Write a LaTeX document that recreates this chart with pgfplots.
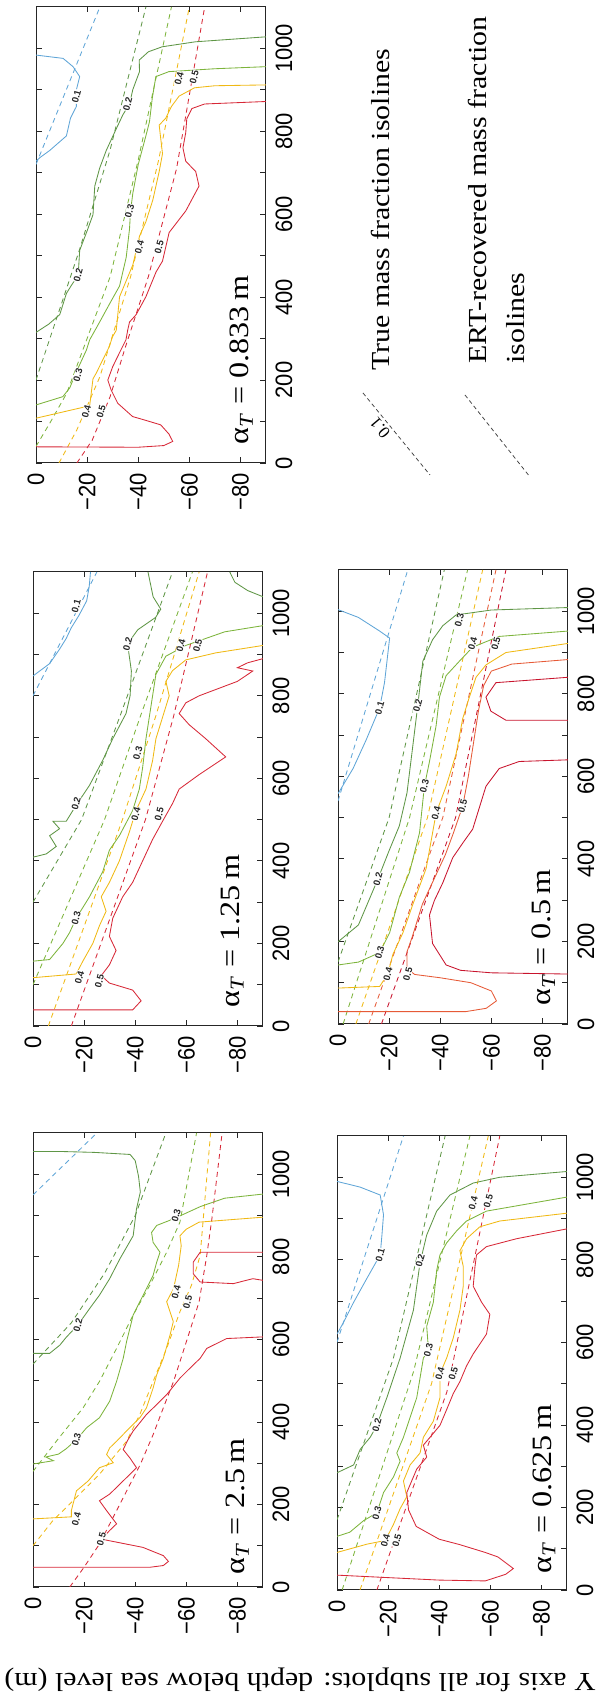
\documentclass[border=0pt]{standalone}
\usepackage{fontspec}
\setmainfont{Liberation Serif}
\newfontfamily\sansf{Liberation Sans}
\usepackage{graphicx}
\usepackage{pgfplots}
\pgfplotsset{compat=1.18}

\definecolor{cA}{RGB}{95,165,215}
\definecolor{cB}{RGB}{95,150,70}
\definecolor{cC}{RGB}{125,180,60}
\definecolor{cD}{RGB}{240,185,20}
\definecolor{cE}{RGB}{215,40,55}
\definecolor{cG}{RGB}{230,90,55}
\definecolor{cF}{RGB}{200,20,45}

\newcommand\tk[1]{\scalebox{1}[1.08]{#1}}
\newcommand\wdx[1]{\scalebox{1.15}[1]{#1}}
\newcommand\tickfont{\sansf\fontsize{22bp}{23bp}\selectfont}
\newcommand\clabfont{\sansf\bfseries\fontsize{9.5bp}{10bp}\selectfont}
\newcommand\alfont{\fontsize{28bp}{30bp}\selectfont}
\newcommand\legfont{\fontsize{26bp}{28bp}\selectfont}

\tikzset{
  clab/.style={font=\clabfont, rotate=75, inner sep=0.4bp, fill=white, text=black!85},
  alab/.style={font=\alfont, rotate=90, anchor=west, inner sep=0pt},
}

% x = depth below sea level in m (plotted as magnitude, labelled negative), y = distance in m
\pgfplotsset{
  panel/.style={
    scale only axis, width=230bp, height=454bp,
    xmin=0, xmax=90, ymin=0, ymax=1100,
    xtick={0,20,40,60,80},
    xticklabels={\tk{0},\tk{−20},\tk{−40},\tk{−60},\tk{−80}},
    ytick={0,100,...,1000},
    yticklabels={\tk{0},,\tk{200},,\tk{400},,\tk{600},,\tk{800},,\tk{1000}},
    xtick pos=both, ytick pos=both,
    yticklabel pos=right, xticklabel pos=bottom,
    tick align=inside, major tick length=5.5bp,
    axis line style={line width=1bp, black!85},
    every tick/.append style={black!85, line width=0.8bp},
    xticklabel style={rotate=90, anchor=east, font=\tickfont},
    yticklabel style={rotate=90, anchor=north, font=\tickfont},
    yticklabel shift=6bp, xticklabel shift=7bp,
    clip=true, anchor=south west,
  },
  sol/.style={line width=0.85bp, mark=none},
  das/.style={line width=0.85bp, mark=none, dash pattern=on 5bp off 4bp},
}

\begin{document}
\begin{tikzpicture}[x=1bp,y=1bp]
\path[use as bounding box] (0,0) rectangle (605,1702);
\coordinate (pA) at (33,115);
\coordinate (pB) at (337,112);
\coordinate (pC) at (33,676);
\coordinate (pD) at (338,678);
\coordinate (pE) at (36,1239);
\coordinate (pL) at (340,1202);

%================ Panel A : alpha = 2.5 m (bottom left)
\begin{axis}[panel, at={(pA)}]
\addplot[das,cA] coordinates {(0,950) (25,1100)};
\addplot[das,cB] coordinates {(0,540) (15,640) (28,760) (40,900) (52,1100)};
\addplot[das,cC] coordinates {(0,280) (10,360) (19.6,434) (26,498) (32.7,578) (39.2,659) (45.7,731) (52.3,811) (57.5,884) (64,1100)};
\addplot[das,cD] coordinates {(0,100) (7.8,161) (15.7,209) (26,273) (36.6,353) (41.8,418) (47,498) (52.3,578) (57.5,667) (62,731) (65.4,803) (69.5,1100)};
\addplot[das,cE] coordinates {(14.4,0) (20,48) (26,104) (38,249) (42,297) (47,369) (51,434) (55,498) (60,594) (65,691) (68,803) (70,892) (74,1100)};
\addplot[sol,cB] coordinates {(0,1055) (12,1055) (24,1053) (38,1048) (40,1033) (41.3,995) (42,957) (40.5,916) (39.2,851) (34,795) (30,747) (26,707) (22.2,675) (17.6,635) (13,605) (10.5,586) (6.5,566) (0,566)};
\addplot[sol,cC] coordinates {(0,298) (8,306) (5,315) (10,322) (13,335) (17,357) (21,386) (26,410) (30,450) (32.7,498) (35.3,554) (36.6,594) (39.2,659) (41.8,691) (44.4,723) (47,755) (48.4,787) (49.7,811) (47,835) (46.4,859) (48.4,876) (55,892) (65.6,922) (75,942) (90,952)};
\addplot[sol,cD] coordinates {(0,165) (15,170) (15,185) (17,233) (21.6,257) (26,289) (31.4,301) (28.8,321) (30,337) (32.7,353) (36.6,378) (41.8,410) (44.4,434) (47,482) (48.4,514) (51,554) (53.6,610) (54.9,643) (52.3,691) (55,723) (57,780) (58,827) (57.5,851) (60,867) (65,884) (90,896)};
\addplot[sol,cE] coordinates {(0,48) (46,48) (51,52) (53,62) (51,76) (43,96) (30,112) (26.8,116) (30,137) (32.7,153) (28.8,185) (26,209) (30,225) (36.6,265) (40.5,289) (38,312) (35.3,333) (37,355) (39.2,378) (44.4,418) (48.4,442) (52.3,466) (57.5,506) (61.4,530) (65.4,554) (68,578) (75.8,602) (90,606)};
\addplot[sol,cE] coordinates {(90,811) (65.4,811) (62.7,787) (62.7,759) (65.4,739) (78.4,735) (86,747) (90,743)};
\node[clab] at (axis cs:17.6,635) {0.2};
\node[clab] at (axis cs:17,357) {0.3};
\node[clab] at (axis cs:17,165) {0.4};
\node[clab] at (axis cs:26.8,116) {0.5};
\node[clab] at (axis cs:56,900) {0.3};
\node[clab] at (axis cs:56,715) {0.4};
\node[clab] at (axis cs:60.5,690) {0.5};
\node[alab] at (axis cs:80,30) {\wdx{α\textsubscript{\textit{T}} = 2.5\,m}};
\end{axis}

%================ Panel B : alpha = 0.625 m (bottom right)
\begin{axis}[panel, at={(pB)}]
\addplot[das,cA] coordinates {(0,600) (26,1100)};
\addplot[das,cB] coordinates {(0,170) (22,560) (42.3,1100)};
\addplot[das,cC] coordinates {(2,0) (30,530) (52,1100)};
\addplot[das,cD] coordinates {(9,0) (37,500) (59.2,1100)};
\addplot[das,cE] coordinates {(15.6,0) (43,480) (63.7,1100)};
\addplot[sol,cA] coordinates {(0,990) (9.1,976) (16.9,957) (18.2,909) (17.6,861) (16.9,812) (11.7,755) (6.5,697) (2.6,649) (0,620)};
\addplot[sol,cB] coordinates {(0,284) (6.5,303) (9.1,341) (13,370) (15.6,399) (19.5,466) (24.7,562) (27.3,620) (29.9,678) (31.2,736) (32.5,793) (35.1,860) (39,918) (44.2,957) (53.3,986) (63.7,1000) (90,1014)};
\addplot[sol,cC] coordinates {(0,130) (5,140) (10.4,168) (15.6,187) (18.2,236) (22.1,274) (24.7,312) (23.4,332) (26,370) (28.6,418) (31.2,466) (33.8,562) (35.8,582) (35.1,639) (37.7,697) (39,774) (40.3,812) (42.9,841) (46.8,870) (50.7,894) (58.5,918) (90,952)};
\addplot[sol,cD] coordinates {(0,91) (11.7,111) (18.9,120) (22.1,159) (24.7,197) (27.3,226) (26,264) (28.6,303) (32.5,332) (33.8,370) (37.7,409) (40.3,466) (40.3,524) (42.9,562) (45.5,611) (48.1,678) (49.4,736) (49.4,784) (48.1,822) (50.7,851) (55.9,880) (63.7,894) (90,913)};
\addplot[sol,cE] coordinates {(0,36) (20,30) (40,24) (58,22) (66,38) (69,52) (63,80) (58,91) (48,110) (40,123) (31,154) (28,194) (27.3,236) (29.9,274) (31.2,293) (35.1,322) (33.8,351) (36.4,370) (40.3,399) (42.9,437) (45.5,476) (48.1,505) (50.7,543) (53.3,572) (58.5,620) (59.8,668) (56.6,697) (53.3,736) (54,784) (54.6,812) (58.5,832) (70.2,851) (90,875)};
\node[clab] at (axis cs:16.9,812) {0.1};
\node[clab] at (axis cs:32.5,798) {0.2};
\node[clab] at (axis cs:53.3,937) {0.4};
\node[clab] at (axis cs:59.2,942) {0.5};
\node[clab] at (axis cs:15.6,399) {0.2};
\node[clab] at (axis cs:35.8,582) {0.3};
\node[clab] at (axis cs:40.3,524) {0.4};
\node[clab] at (axis cs:45.5,524) {0.5};
\node[clab] at (axis cs:15.6,187) {0.3};
\node[clab] at (axis cs:18.9,120) {0.4};
\node[clab] at (axis cs:23.4,120) {0.5};
\node[alab] at (axis cs:81,40) {\wdx{α\textsubscript{\textit{T}} = 0.625\,m}};
\end{axis}

%================ Panel C : alpha = 1.25 m (middle left)
\begin{axis}[panel, at={(pC)}]
\addplot[das,cA] coordinates {(0,800) (25,1100)};
\addplot[das,cB] coordinates {(0,300) (19,500) (34,750) (54.6,1100)};
\addplot[das,cC] coordinates {(0,100) (28,500) (42,750) (62.4,1100)};
\addplot[das,cD] coordinates {(6,0) (35,500) (48,750) (65,1100)};
\addplot[das,cE] coordinates {(15,0) (44,500) (55,750) (68.3,1100)};
\addplot[sol,cA] coordinates {(0,848) (6.5,878) (10.4,913) (13,939) (15,965) (18,995) (21,1030) (22,1065) (22.5,1100)};
\addplot[sol,cB] coordinates {(0,409) (5.2,417) (9.1,435) (6.5,461) (10.4,478) (7.8,496) (13,496) (16.9,535) (22.1,583) (27.3,644) (31.2,696) (36.4,757) (38,800) (38.5,860) (37,926) (41,960) (48,990) (50,1010) (47,1040) (45,1100)};
\addplot[sol,cB] coordinates {(90,1040) (84,1055) (79,1075) (77,1100)};
\addplot[sol,cC] coordinates {(0,157) (6.5,161) (11.7,200) (14.3,226) (16.9,261) (22.1,313) (27.3,374) (29.9,426) (33.8,461) (39,522) (41.6,574) (42.9,626) (44.2,696) (45.5,748) (46.8,800) (48.1,852) (52,896) (59.8,922) (75,955) (90,970)};
\addplot[sol,cD] coordinates {(0,117) (16.9,126) (19.5,157) (23.4,200) (26,243) (28.6,278) (26.7,313) (29.9,348) (33.8,400) (37.7,470) (40.3,522) (44.2,574) (46.8,643) (48.1,696) (50.7,748) (53.3,800) (52,835) (54.6,861) (59.8,887) (71.5,904) (90,922)};
\addplot[sol,cE] coordinates {(0,39) (39,39) (42.3,61) (39,87) (29.9,104) (26.7,122) (29.9,148) (32.5,183) (29.9,217) (31.2,261) (35.1,313) (39,348) (42.9,400) (46.8,452) (50.7,496) (54.6,539) (57.2,574) (65,609) (75.4,652) (67.6,696) (61.1,730) (57.2,757) (59.8,783) (65,800) (80,835) (86,860) (80,868) (84,880) (90,890)};
\node[clab] at (axis cs:16.9,1017) {0.1};
\node[clab] at (axis cs:37,926) {0.2};
\node[clab] at (axis cs:57.9,922) {0.4};
\node[clab] at (axis cs:64.4,922) {0.5};
\node[clab] at (axis cs:41,661) {0.3};
\node[clab] at (axis cs:16.9,539) {0.2};
\node[clab] at (axis cs:40.3,513) {0.4};
\node[clab] at (axis cs:49.4,513) {0.5};
\node[clab] at (axis cs:16.9,261) {0.3};
\node[clab] at (axis cs:18.2,117) {0.4};
\node[clab] at (axis cs:26,109) {0.5};
\node[alab] at (axis cs:78,45) {\wdx{α\textsubscript{\textit{T}} = 1.25\,m}};
\end{axis}

%================ Panel D : alpha = 0.5 m (middle right)
\begin{axis}[panel, at={(pD)}]
\addplot[das,cA] coordinates {(0,540) (27.3,1100)};
\addplot[das,cB] coordinates {(0,150) (20,500) (41.6,1100)};
\addplot[das,cC] coordinates {(2,0) (28,500) (50.7,1100)};
\addplot[das,cD] coordinates {(7,0) (35,500) (56.6,1100)};
\addplot[das,cG] coordinates {(12,0) (41,500) (61.8,1100)};
\addplot[das,cF] coordinates {(17,0) (46,500) (65.7,1100)};
\addplot[sol,cA] coordinates {(0,1004) (8,985) (16.3,952) (20.2,935) (18.2,827) (16.3,766) (11,688) (5.9,619) (0,558)};
\addplot[sol,cB] coordinates {(0,199) (8,240) (15.6,351) (20,420) (24,480) (27,560) (29,660) (31.2,771) (33.2,879) (37,931) (41,965) (46.2,991) (60,1003) (90,1009)};
\addplot[sol,cC] coordinates {(0,143) (8,150) (16.3,173) (20.2,221) (24,307) (28,368) (31.9,463) (33.8,576) (35.8,636) (38.4,723) (39.7,792) (42.3,844) (47.5,879) (52.7,913) (63,939) (90,952)};
\addplot[sol,cD] coordinates {(0,87) (16.3,91) (19.5,121) (21.5,169) (25.4,221) (29.3,290) (34.5,377) (38.4,511) (42.3,576) (46.2,654) (48.8,740) (51.4,792) (54,840) (57.9,870) (65.7,900) (90,922)};
\addplot[sol,cG] coordinates {(0,30) (50,30) (58,38) (62,56) (60,80) (52,100) (40,112) (30,120) (27,135) (27,175) (29,210) (31,250) (33,290) (36,330) (39,370) (42,410) (45,460) (48.8,528) (51,600) (53,680) (55,760) (57,820) (60,855) (68,872) (90,883)};
\addplot[sol,cF] coordinates {(90,121) (60,124) (48,130) (42.3,143) (37,195) (35.8,264) (37.7,299) (41,342) (44.9,403) (49,440) (52.7,472) (57.9,576) (63.1,619) (70.9,636) (90,640)};
\addplot[sol,cF] coordinates {(90,840) (61.8,827) (57.9,792) (59.8,758) (65.7,736) (90,736)};
\node[clab] at (axis cs:16.3,766) {0.1};
\node[clab] at (axis cs:31.2,771) {0.2};
\node[clab] at (axis cs:47.5,978) {0.3};
\node[clab] at (axis cs:52.7,922) {0.4};
\node[clab] at (axis cs:61.8,922) {0.5};
\node[clab] at (axis cs:15.6,351) {0.2};
\node[clab] at (axis cs:33.8,576) {0.3};
\node[clab] at (axis cs:38.4,511) {0.4};
\node[clab] at (axis cs:48.8,528) {0.5};
\node[clab] at (axis cs:16.3,173) {0.3};
\node[clab] at (axis cs:19.5,121) {0.4};
\node[clab] at (axis cs:27.3,121) {0.5};
\node[alab] at (axis cs:80.5,45) {\wdx{α\textsubscript{\textit{T}} = 0.5\,m}};
\end{axis}

%================ Panel E : alpha = 0.833 m (top left)
\begin{axis}[panel, at={(pE)}, height=456bp]
\addplot[das,cA] coordinates {(0,720) (25,1100)};
\addplot[das,cB] coordinates {(0,200) (17,514) (29,755) (43,1100)};
\addplot[das,cC] coordinates {(0,40) (5.4,96) (12,168) (29,449) (40,731) (53,1100)};
\addplot[das,cD] coordinates {(9,0) (16,80) (25,208) (37,449) (48,731) (60,1100)};
\addplot[das,cE] coordinates {(16,0) (22,55) (29,160) (35,280) (44,450) (55,710) (66,1100)};
\addplot[sol,cA] coordinates {(0,984) (10.6,976) (14.5,956) (17.1,932) (15.8,900) (15.8,860) (13.5,832) (11.9,789) (5.4,754) (1.6,737) (0,728)};
\addplot[sol,cB] coordinates {(0,315) (5,335) (9.3,358) (11.9,409) (14,430) (16.5,453) (17.1,513) (20,560) (22.3,599) (23,668) (24.9,711) (27.5,754) (31.4,806) (34,840) (36.6,866) (37.9,901) (40.5,944) (40.4,972) (44,992) (49.4,1004) (62.4,1016) (90,1028)};
\addplot[sol,cC] coordinates {(0,140) (10.5,160) (13.2,181) (15.8,220) (19.7,272) (21,297) (24.9,340) (28.8,384) (32.7,427) (35.3,496) (36.6,565) (37,608) (37.9,651) (40,720) (43,789) (44.4,823) (45.5,880) (46.9,932) (52,944) (70,951) (90,956)};
\addplot[sol,cD] coordinates {(0,108) (21,138) (22.3,203) (23.6,217) (25.5,241) (28.7,281) (29.9,304) (31.4,320) (32.7,401) (37.9,478) (40.5,547) (43,582) (45.7,634) (48.2,703) (49.5,746) (48.2,815) (50.8,832) (53,860) (56,885) (62,905) (70,910) (90,912)};
\addplot[sol,cE] coordinates {(0,39) (40,38) (50,42) (53.5,52) (52,70) (48.8,92) (42.3,104) (37.8,112) (32,144) (29.4,176) (28.1,200) (30,232) (32.6,265) (35.2,297) (35.9,321) (36.6,340) (39.2,358) (43,401) (47,461) (49.5,487) (52.1,556) (58.6,608) (63.8,668) (62.5,703) (58.6,728) (57.5,760) (58.6,797) (59,830) (61,855) (66,866) (90,872)};
\node[clab] at (axis cs:19.7,124) {0.4};
\node[clab] at (axis cs:25.5,124) {0.5};
\node[clab] at (axis cs:16.4,212) {0.3};
\node[clab] at (axis cs:16.5,453) {0.2};
\node[clab] at (axis cs:36.6,608) {0.3};
\node[clab] at (axis cs:40.5,521) {0.4};
\node[clab] at (axis cs:48.2,521) {0.5};
\node[clab] at (axis cs:35.9,866) {0.2};
\node[clab] at (axis cs:15.8,884) {0.1};
\node[clab] at (axis cs:56,927) {0.4};
\node[clab] at (axis cs:61.9,931) {0.5};
\node[alab] at (axis cs:80.4,45) {\wdx{α\textsubscript{\textit{T}} = 0.833\,m}};
\end{axis}

%================ Legend (top right)
\begin{axis}[at={(pL)}, anchor=south west, scale only axis, width=260bp, height=500bp,
  xmin=0, xmax=260, ymin=0, ymax=500, hide axis, clip=false]
\addplot[das, black!75, line width=0.75bp, dash pattern=on 4bp off 3bp] coordinates {(23,107) (90,25)};
\addplot[das, black!75, line width=0.75bp, dash pattern=on 4bp off 3bp] coordinates {(125,105) (190,23)};
\node[font=\fontsize{17bp}{18bp}\selectfont, rotate=130, fill=white, inner sep=0.5bp] at (axis cs:40,72) {0.1};
\node[rotate=90, anchor=west, font=\legfont, inner sep=0pt] at (axis cs:40,129) {\wdx{True mass fraction isolines}};
\node[rotate=90, anchor=west, font=\legfont, inner sep=0pt] at (axis cs:137,136) {\wdx{ERT-recovered mass fraction}};
\node[rotate=90, anchor=west, font=\legfont, inner sep=0pt] at (axis cs:176,136) {\wdx{isolines}};
\end{axis}

%================ Common y-axis label (upside down, bottom)
\node[rotate=180, font=\legfont, inner sep=0pt] at (300,22) {\wdx{Y axis for all subplots: depth below sea level (m)}};
\end{tikzpicture}
\end{document}
